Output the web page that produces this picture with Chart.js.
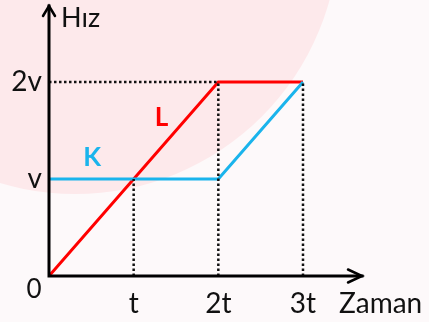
<!DOCTYPE html>
<html>
<head>
<meta charset="utf-8">
<script src="https://cdn.jsdelivr.net/npm/chart.js@4"></script>
<style>
  html, body { margin: 0; padding: 0; background: #fdf9fa; }
  #wrap { width: 429px; height: 322px; }
</style>
</head>
<body>
<div id="wrap"><canvas id="graph" width="429" height="322"></canvas></div>
<script>
// tick values and their labels
const timeTicks = [1, 2, 3];
const timeLabels = ['t', '2t', '3t'];
const speedTicks = [1, 2];
const speedLabels = ['v', '2v'];

// L: speeds up to 2v, then constant
const timeL = [0, 2, 3];
const speedL = [0, 2, 2];
// K: constant v, then speeds up to 2v
const timeK = [0, 2, 3];
const speedK = [1, 1, 2];

// dotted guide lines
const guideH = { x: [0, 2], y: [2, 2] };
const guideT1 = { x: [1, 1], y: [0, 1] };
const guideT2 = { x: [2, 2], y: [0, 2] };
const guideT3 = { x: [3, 3], y: [0, 2] };

const toPoints = (xs, ys) => xs.map((x, i) => ({ x: x, y: ys[i] }));

const FONT = 'Lato, "Open Sans", sans-serif';

const dotted = (g) => ({
    data: toPoints(g.x, g.y),
    borderColor: '#111',
    borderWidth: 2.5,
    borderDash: [2.5, 2.5],
    pointRadius: 0,
    fill: false
});

// background, axes with arrows, free labels
const decoPlugin = {
    id: 'deco',
    beforeDraw(chart) {
        const c = chart.ctx;
        c.save();
        c.fillStyle = '#fdf9fa';
        c.fillRect(0, 0, chart.width, chart.height);
        c.fillStyle = '#fde9eb';
        c.beginPath();
        c.arc(75, -70, 264, 0, Math.PI * 2);
        c.fill();
        c.restore();
    },
    afterDatasetsDraw(chart) {
        const c = chart.ctx;
        const xs = chart.scales.x, ys = chart.scales.y;
        const x0 = xs.getPixelForValue(0);
        const y0 = ys.getPixelForValue(0);
        const top = chart.chartArea.top - 2;
        const right = chart.chartArea.right;

        c.save();
        c.strokeStyle = '#000';
        c.lineWidth = 3;
        c.lineCap = 'square';
        c.beginPath();
        c.moveTo(x0, top);
        c.lineTo(x0, y0);
        c.lineTo(right, y0);
        c.stroke();

        c.lineWidth = 2.5;
        c.lineCap = 'round';
        c.beginPath();
        c.moveTo(x0 - 6, top + 10);
        c.lineTo(x0, top);
        c.lineTo(x0 + 6, top + 10);
        c.moveTo(right - 14, y0 - 6.5);
        c.lineTo(right, y0);
        c.lineTo(right - 14, y0 + 6.5);
        c.stroke();

        c.fillStyle = '#111';
        c.textBaseline = 'alphabetic';
        c.font = '27px ' + FONT;
        c.textAlign = 'left';
        c.fillText('Hız', x0 + 12, 27);
        c.font = '28px ' + FONT;
        c.fillText('Zaman', 339, 313);
        c.font = '26px ' + FONT;
        c.textAlign = 'center';
        c.fillText('0', 34, 298);

        c.font = 'bold 26px ' + FONT;
        c.fillStyle = '#1ab4ec';
        c.fillText('K', xs.getPixelForValue(0.51), ys.getPixelForValue(1.23) + 9);
        c.fillStyle = '#ff0000';
        c.fillText('L', xs.getPixelForValue(1.33), ys.getPixelForValue(1.64) + 9);
        c.restore();
    }
};

new Chart(document.getElementById('graph'), {
    type: 'line',
    data: {
        datasets: [
            dotted(guideH),
            dotted(guideT1),
            dotted(guideT2),
            dotted(guideT3),
            {
                label: 'K',
                data: toPoints(timeK, speedK),
                borderColor: '#1ab4ec',
                borderWidth: 3,
                pointRadius: 0,
                fill: false
            },
            {
                label: 'L',
                data: toPoints(timeL, speedL),
                borderColor: '#ff0000',
                borderWidth: 3,
                pointRadius: 0,
                fill: false
            }
        ]
    },
    options: {
        responsive: false,
        animation: false,
        layout: { padding: { top: 8, right: 67, left: 0, bottom: 0 } },
        plugins: { legend: { display: false }, tooltip: { enabled: false } },
        elements: { line: { tension: 0 } },
        scales: {
            x: {
                type: 'linear',
                min: 0,
                max: 3.697,
                grid: { display: false, drawTicks: false },
                border: { display: false },
                afterBuildTicks: (s) => { s.ticks = timeTicks.map(v => ({ value: v })); },
                afterFit: (s) => { s.height = 46; s.paddingLeft = 0; s.paddingRight = 0; },
                ticks: {
                    autoSkip: false,
                    maxRotation: 0,
                    padding: 11,
                    color: '#111',
                    font: { family: FONT, size: 28 },
                    callback: (v) => timeLabels[timeTicks.indexOf(v)]
                }
            },
            y: {
                type: 'linear',
                min: 0,
                max: 2.763,
                grid: { display: false, drawTicks: false },
                border: { display: false },
                afterBuildTicks: (s) => { s.ticks = speedTicks.map(v => ({ value: v })); },
                afterFit: (s) => { s.width = 49; s.paddingTop = 0; s.paddingBottom = 0; },
                ticks: {
                    autoSkip: false,
                    padding: 7,
                    color: '#111',
                    font: { family: FONT, size: 28 },
                    callback: (v) => speedLabels[speedTicks.indexOf(v)]
                }
            }
        }
    },
    plugins: [decoPlugin]
});
</script>
</body>
</html>
